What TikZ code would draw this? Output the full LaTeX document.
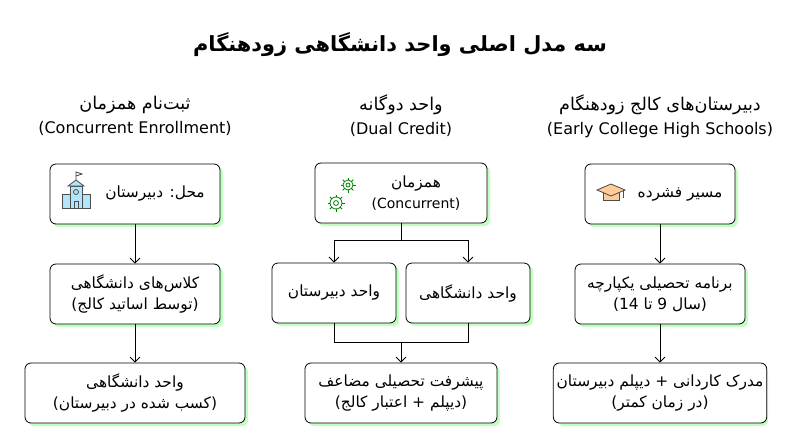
\documentclass[tikz,border=0pt]{standalone}
\usepackage{fontspec}
\setmainfont{DejaVu Sans}
\newfontfamily\fa[Script=Arabic, Scale=1.1]{DejaVu Sans}
\usetikzlibrary{arrows.meta}
\TeXXeTstate=1
\newcommand{\rl}[1]{{\fa\beginR #1\endR}}

\tikzset{
    box/.style={draw, thick, rounded corners=6pt, fill=white, align=center,
        font=\fontsize{14}{21}\selectfont, minimum height=60pt},
    shade/.style={fill=green!25!white, rounded corners=6pt},
    head/.style={align=center, font=\fontsize{16}{24}\selectfont},
    link/.style={thick, -{Straight Barb[length=5pt]}},
}

\begin{document}
\begin{tikzpicture}[x=1pt,y=-1pt]
        \useasboundingbox (0,0) rectangle (800,447);
        % title
        \node (title) [font=\fontsize{19}{24}\bfseries] at (400,45) {\rl{سه مدل اصلی واحد دانشگاهی زودهنگام}};

        % headers
        \node (h1) [head] at (135,116) {\rl{ثبت‌نام همزمان}\\(Concurrent Enrollment)};
        \node (h2) [head] at (401,116) {\rl{واحد دوگانه}\\(Dual Credit)};
        \node (h3) [head] at (660,116) {\rl{دبیرستان‌های کالج زودهنگام}\\(Early College High Schools)};

        % shadows
        \foreach \x/\y/\w in {135/194/170, 135/294/170, 135/393/220,
                              401/193/172, 334/293/124, 468/293/124, 401/393/192,
                              660/194/150, 660/294/170, 660/393/210}
        {
            \fill [shade] (\x-\w/2+3,\y-30+3) rectangle (\x+\w/2+3,\y+30+3);
        }

        % column 1
        \node (a1) [box, minimum width=170pt] at (135,194) {\hspace*{40pt}\rl{محل: دبیرستان}};
        \node (a2) [box, minimum width=170pt] at (135,294) {\rl{کلاس‌های دانشگاهی}\\\rl{(توسط اساتید کالج)}};
        \node (a3) [box, minimum width=220pt] at (135,393) {\rl{واحد دانشگاهی}\\\rl{(کسب شده در دبیرستان)}};

        % column 2
        \node (b1) [box, minimum width=172pt] at (401,193) {\hspace*{30pt}\rl{همزمان}\\\hspace*{30pt}(Concurrent)};
        \node (b2) [box, minimum width=124pt] at (334,293) {\rl{واحد دبیرستان}};
        \node (b3) [box, minimum width=124pt] at (468,293) {\rl{واحد دانشگاهی}};
        \node (b4) [box, minimum width=192pt] at (401,393) {\rl{پیشرفت تحصیلی مضاعف}\\\rl{(دیپلم + اعتبار کالج)}};

        % column 3
        \node (c1) [box, minimum width=150pt] at (660,194) {\hspace*{40pt}\rl{مسیر فشرده}};
        \node (c2) [box, minimum width=170pt] at (660,294) {\rl{برنامه تحصیلی یکپارچه}\\\rl{(سال 9 تا 14)}};
        \node (c3) [box, minimum width=210pt] at (660,393) {\rl{مدرک کاردانی + دیپلم دبیرستان}\\\rl{(در زمان کمتر)}};

        % icons
        \begin{scope}[shift={(76,196)}, draw=black!70, fill=cyan!30, thick]
            \filldraw (-14,-2) rectangle (14,12);
            \filldraw (-6,-10) rectangle (6,12);
            \filldraw (-8,-10) -- (0,-16) -- (8,-10) -- cycle;
            \draw (0,-16) -- (0,-24) -- (6,-22) -- (0,-20);
            \draw (0,-4) circle (2.5);
            \draw (-2,5) rectangle (2,12);
        \end{scope}
        \begin{scope}[draw=green!50!black, thick]
            \foreach \cx/\cy/\r in {336/203/6, 348/185/5}
            {
                \foreach \a in {0,45,...,315}
                    \draw (\cx,\cy) ++(\a:\r) -- ++(\a:2.5);
                \draw (\cx,\cy) circle (\r) (\cx,\cy) circle (\r/2.5);
            }
        \end{scope}
        \begin{scope}[shift={(611,192)}, draw=black!70, thick]
            \filldraw [fill=orange!40] (-8,0) rectangle (8,8);
            \filldraw [fill=orange!40] (-14,-2) -- (0,-8) -- (14,-2) -- (0,4) -- cycle;
            \draw (12,-2) -- (12,6);
        \end{scope}

        % connectors
        \draw [link] (a1) -- (a2);
        \draw [link] (a2) -- (a3);
        \draw [link] (c1) -- (c2);
        \draw [link] (c2) -- (c3);
        \coordinate (s) at (401,240);
        \coordinate (m) at (401,342);
        \draw [thick] (b1) -- (s);
        \draw [link] (s) -| (b2);
        \draw [link] (s) -| (b3);
        \draw [thick] (b2) |- (m);
        \draw [thick] (b3) |- (m);
        \draw [link] (m) -- (b4);
\end{tikzpicture}
\end{document}
